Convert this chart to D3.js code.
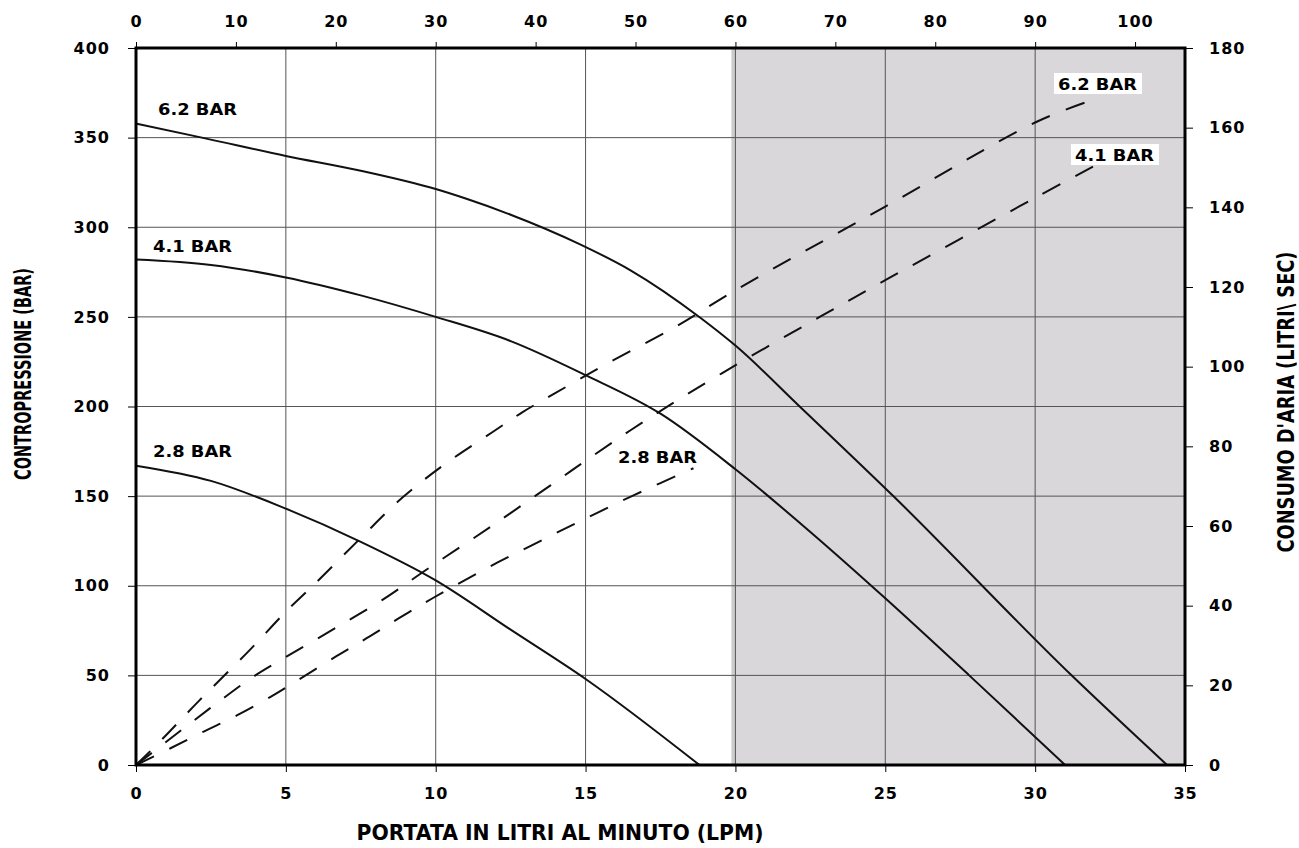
<!DOCTYPE html>
<html>
<head>
<meta charset="utf-8">
<script src="https://cdn.jsdelivr.net/npm/d3@7"></script>
<style>
  body { margin: 0; background: #fff; }
  svg { display: block; }
  text { font-family: "DejaVu Sans", Verdana, sans-serif; font-weight: bold; fill: #000; }
</style>
</head>
<body>
<svg id="chart" width="1299" height="848"></svg>
<script>
const width = 1299, height = 848;
const margin = {left: 136, right: 114, top: 48, bottom: 83};

// curve data: [LPM, bar] for pressure, [LPM, l/s] for air consumption
const pressure62 = [[0,357.8],[2.2,350],[5,339.8],[7.5,331.5],[10,321.3],[11,316],[12.5,307],[14.8,290.6],[16.5,276],[18.84,249.4],[20,234],[22.17,199.6],[25.3,149.5],[31.24,49.6],[34.4,0]];
const pressure41 = [[0,282],[2.5,279],[5,272],[7.5,262],[10,250],[12.5,236.5],[15,217.5],[17.5,196],[20,165],[22.5,130],[25,93],[27.8,50],[31,0]];
const pressure28 = [[0,167],[2.5,158.5],[5,143],[7.5,124.5],[10,103],[12.5,75.5],[15,48],[18.8,0]];

const air62 = [[0,0],[0.85,6.3],[2.1,16.1],[3.8,28.9],[5,38.5],[5.9,45],[7.5,57],[8.9,67.2],[10.3,75.5],[11.9,83.6],[12.9,88.6],[14,93.4],[15.6,100.3],[18,110],[20,119.2],[25,140.2],[30,161.3],[31.7,166.4]];
const air41 = [[0,0],[0.95,5.5],[1.92,11.1],[2.92,16.8],[3.92,22.2],[5,27.1],[6.59,34.1],[8.21,41.4],[9.76,49.4],[11.83,59.8],[13.83,70.2],[14.89,75.8],[17,86.5],[19.56,98.4],[22.84,112.6],[25,121.7],[30,142.4],[31.95,150.3]];
const air28 = [[0,0],[1.15,4.2],[2.26,8.4],[3.38,12.5],[4.49,17.1],[5.04,19.6],[6.66,27.2],[7.71,31.9],[8.76,36.8],[9.88,41.8],[12.05,50.8],[13.22,55.2],[14.33,59.4],[15.44,63.5],[16.6,67.7],[18.6,74.5]];

const bottomTicks = [0,5,10,15,20,25,30,35];
const topTicks = [0,10,20,30,40,50,60,70,80,90,100];
const leftTicks = [0,50,100,150,200,250,300,350,400];
const rightTicks = [0,20,40,60,80,100,120,140,160,180];

const svg = d3.select("#chart");
const x0 = margin.left, x1 = width - margin.right;
const y0 = height - margin.bottom, y1 = margin.top;

const x = d3.scaleLinear().domain([0,35]).range([x0, x1]);
const xTop = d3.scaleLinear().domain([0,105]).range([x0, x1]);
const y = d3.scaleLinear().domain([0,400]).range([y0, y1]);
const yR = d3.scaleLinear().domain([0,180]).range([y0, y1]);

// shaded zone beyond 20 LPM
svg.append("rect")
    .attr("x", x(20) - 4).attr("y", y1)
    .attr("width", 4).attr("height", y0 - y1)
    .attr("fill", "#cdcbcd");
svg.append("rect")
    .attr("x", x(20)).attr("y", y1)
    .attr("width", x(35) - x(20)).attr("height", y0 - y1)
    .attr("fill", "#d9d7d9");

// grid
const grid = svg.append("g").attr("stroke", "#555").attr("stroke-width", 1);
grid.selectAll("line.v").data(bottomTicks.slice(1, -1)).join("line")
    .attr("x1", d => x(d)).attr("x2", d => x(d))
    .attr("y1", y1).attr("y2", y0);
grid.selectAll("line.h").data(leftTicks.slice(1, -1)).join("line")
    .attr("class", "h")
    .attr("x1", x0).attr("x2", x1)
    .attr("y1", d => y(d)).attr("y2", d => y(d));

// axes
function styleAxis(g) {
    g.select(".domain").remove();
    g.selectAll(".tick line").attr("stroke", "#000").attr("stroke-width", 1);
    g.selectAll(".tick text")
        .attr("font-family", "DejaVu Sans, sans-serif")
        .attr("font-weight", "bold")
        .attr("font-size", 16)
        .attr("letter-spacing", "1px")
        .attr("fill", "#000");
}
svg.append("g").attr("transform", `translate(0,${y0})`)
    .call(d3.axisBottom(x).tickValues(bottomTicks).tickSize(7).tickPadding(16).tickFormat(d3.format("d")))
    .call(styleAxis);
svg.append("g").attr("transform", `translate(0,${y1})`)
    .call(d3.axisTop(xTop).tickValues(topTicks).tickSize(6).tickPadding(15).tickFormat(d3.format("d")))
    .call(styleAxis);
svg.append("g").attr("transform", `translate(${x0},0)`)
    .call(d3.axisLeft(y).tickValues(leftTicks).tickSize(8).tickPadding(18).tickFormat(d3.format("d")))
    .call(styleAxis);
svg.append("g").attr("transform", `translate(${x1},0)`)
    .call(d3.axisRight(yR).tickValues(rightTicks).tickSize(8).tickPadding(16).tickFormat(d3.format("d")))
    .call(styleAxis);

// curves
const linePress = d3.line().x(d => x(d[0])).y(d => y(d[1])).curve(d3.curveMonotoneX);
const lineAir = d3.line().x(d => x(d[0])).y(d => yR(d[1])).curve(d3.curveCatmullRom.alpha(0.5));

svg.append("g").selectAll("path").data([pressure62, pressure41, pressure28]).join("path")
    .attr("d", linePress)
    .attr("fill", "none").attr("stroke", "#111").attr("stroke-width", 2);

svg.append("g").selectAll("path").data([air62, air41, air28]).join("path")
    .attr("d", lineAir)
    .attr("fill", "none").attr("stroke", "#111").attr("stroke-width", 2)
    .attr("stroke-dasharray", "20,17");

// frame
svg.append("rect")
    .attr("x", x0).attr("y", y1)
    .attr("width", x1 - x0).attr("height", y0 - y1)
    .attr("fill", "none").attr("stroke", "#000").attr("stroke-width", 3);

// curve labels
const labels = [
    {t: "6.2 BAR", x: 158, y: 115, box: false},
    {t: "4.1 BAR", x: 153, y: 252, box: false},
    {t: "2.8 BAR", x: 153, y: 457, box: false},
    {t: "2.8 BAR", x: 618, y: 463, box: false},
    {t: "6.2 BAR", x: 1058, y: 90, box: true},
    {t: "4.1 BAR", x: 1075, y: 161, box: true}
];
labels.forEach(l => {
    if (l.box) {
        svg.append("rect")
            .attr("x", l.x - 4).attr("y", l.y - 17)
            .attr("width", 88).attr("height", 21)
            .attr("fill", "#fff");
    }
    svg.append("text")
        .attr("x", l.x).attr("y", l.y)
        .attr("font-size", 16.5)
        .attr("textLength", 79).attr("lengthAdjust", "spacingAndGlyphs")
        .text(l.t);
});

// axis titles
svg.append("text")
    .attr("x", 560).attr("y", 840)
    .attr("text-anchor", "middle")
    .attr("font-size", 22)
    .attr("textLength", 407).attr("lengthAdjust", "spacingAndGlyphs")
    .text("PORTATA IN LITRI AL MINUTO (LPM)");

svg.append("text")
    .attr("transform", "translate(31,374) rotate(-90)")
    .attr("text-anchor", "middle")
    .attr("font-size", 23)
    .attr("textLength", 212).attr("lengthAdjust", "spacingAndGlyphs")
    .text("CONTROPRESSIONE (BAR)");

svg.append("text")
    .attr("transform", "translate(1294,402) rotate(-90)")
    .attr("text-anchor", "middle")
    .attr("font-size", 23)
    .attr("textLength", 301).attr("lengthAdjust", "spacingAndGlyphs")
    .text("CONSUMO D'ARIA (LITRI\\ SEC)");
</script>
</body>
</html>
